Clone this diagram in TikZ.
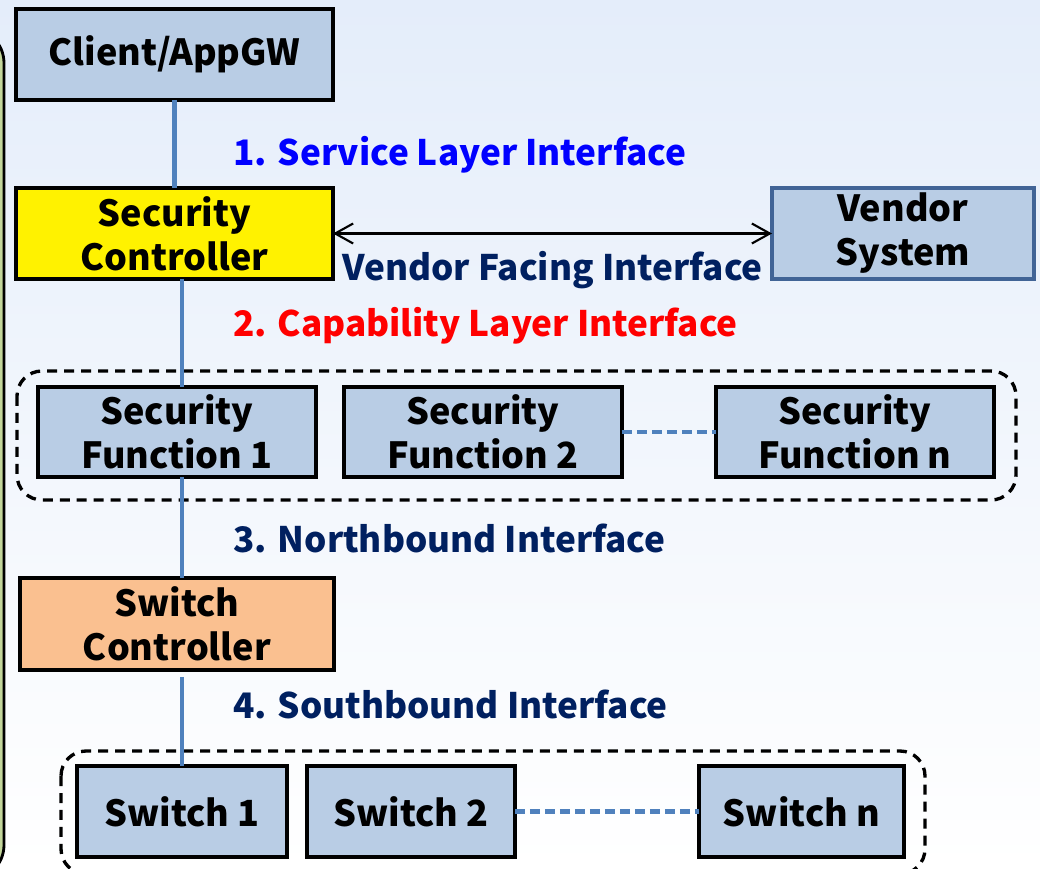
\documentclass[tikz,border=0pt]{standalone}
\usepackage{fontspec}
\setmainfont{Noto Sans CJK KR}
\usetikzlibrary{arrows.meta}

\definecolor{boxblue}{RGB}{185,205,229}
\definecolor{linkblue}{RGB}{79,129,189}
\definecolor{navy}{RGB}{0,32,96}
\definecolor{sworange}{RGB}{250,192,144}
\definecolor{sideg}{RGB}{195,214,155}
\definecolor{bgtop}{RGB}{228,237,250}

\tikzset{
  unit/.style={draw=black, line width=1.9pt, fill=boxblue, align=center,
    inner sep=0pt, outer sep=0pt, font=\fontsize{20.5}{25}\selectfont\bfseries},
  grpbox/.style={draw=black, line width=1.9pt, dash pattern=on 0.2cm off 0.14cm,
    rounded corners=0.5cm},
  trunk/.style={draw=linkblue, line width=2.6pt},
  dotlink/.style={draw=linkblue, line width=2.4pt, dash pattern=on 0.2cm off 0.1cm},
  lbl/.style={anchor=west, inner sep=0pt, font=\fontsize{20}{24}\selectfont\bfseries}
}

\begin{document}
\begin{tikzpicture}[x=0.02cm, y=-0.02cm]

    % page and background
    \useasboundingbox (0,0) rectangle (1040,868);
    \shade[top color=bgtop, bottom color=white] (0,0) rectangle (1040,868);

    % green side panel, mostly off to the left
    \begin{scope}
      \clip (0,0) rectangle (1040,868);
      \draw[fill=sideg, line width=1.6pt, rounded corners=0.7cm]
        (-120,28) rectangle (4,880);
    \end{scope}

    % --- boxes ---
    \node[unit, minimum width=6.34cm, minimum height=1.82cm] (client) at (174.5,54.5) {Client/AppGW};
    \node[unit, fill=yellow, minimum width=6.34cm, minimum height=1.82cm] (secctrl) at (174.5,233.5) {Security\\Controller};
    \node[unit, draw={rgb,255:red,65;green,100;blue,150}, minimum width=5.24cm, minimum height=1.82cm] (vendor) at (903,233.5) {Vendor\\System};

    \node[unit, minimum width=5.56cm, minimum height=1.8cm] (sf1) at (177,432) {Security\\Function 1};
    \node[unit, minimum width=5.56cm, minimum height=1.8cm] (sf2) at (483,432) {Security\\Function 2};
    \node[unit, minimum width=5.56cm, minimum height=1.8cm] (sfn) at (855,432) {Security\\Function n};

    \node[unit, fill=sworange, minimum width=6.28cm, minimum height=1.84cm] (swctrl) at (177,624) {Switch\\Controller};

    \node[unit, minimum width=4.2cm, minimum height=1.82cm] (sw1) at (182,811.5) {Switch 1};
    \node[unit, minimum width=4.16cm, minimum height=1.82cm] (sw2) at (411,811.5) {Switch 2};
    \node[unit, minimum width=4.1cm, minimum height=1.82cm] (swn) at (801.5,811.5) {Switch n};

    % dashed groups
    \draw[grpbox] (17,371) rectangle (1016,500);
    \draw[grpbox] (61,751) rectangle (925,874);

    % --- vertical links ---
    \coordinate (spine) at (182,0);
    \draw[trunk] (client.south) -- (secctrl.north);
    \draw[trunk] (secctrl.south -| spine) -- (sf1.north -| spine);
    \draw[trunk] (sf1.south -| spine) -- (swctrl.north -| spine);
    \draw[trunk] (swctrl.south -| spine) ++(0,7) -- (sw1.north -| spine);

    % "and so on" links
    \draw[dotlink] (sf2.east) -- (sfn.west);
    \draw[dotlink] (sw2.east) -- (swn.west);

    % vendor arrow
    \draw[{Straight Barb[length=0.36cm, width=0.4cm]}-{Straight Barb[length=0.36cm, width=0.4cm]}, line width=1.2pt]
      (secctrl.east) -- (vendor.west);

    % interface labels
    \node[lbl, text=blue] (l1) at (233,155) {1. Service Layer Interface};
    \node[lbl, text=navy] (lv) at (342,270) {Vendor Facing Interface};
    \node[lbl, text=red] (l2) at (233,326) {2. Capability Layer Interface};
    \node[lbl, text=navy] (l3) at (233,538) {3. Northbound Interface};
    \node[lbl, text=navy] (l4) at (233,704) {4. Southbound Interface};

\end{tikzpicture}
\end{document}
